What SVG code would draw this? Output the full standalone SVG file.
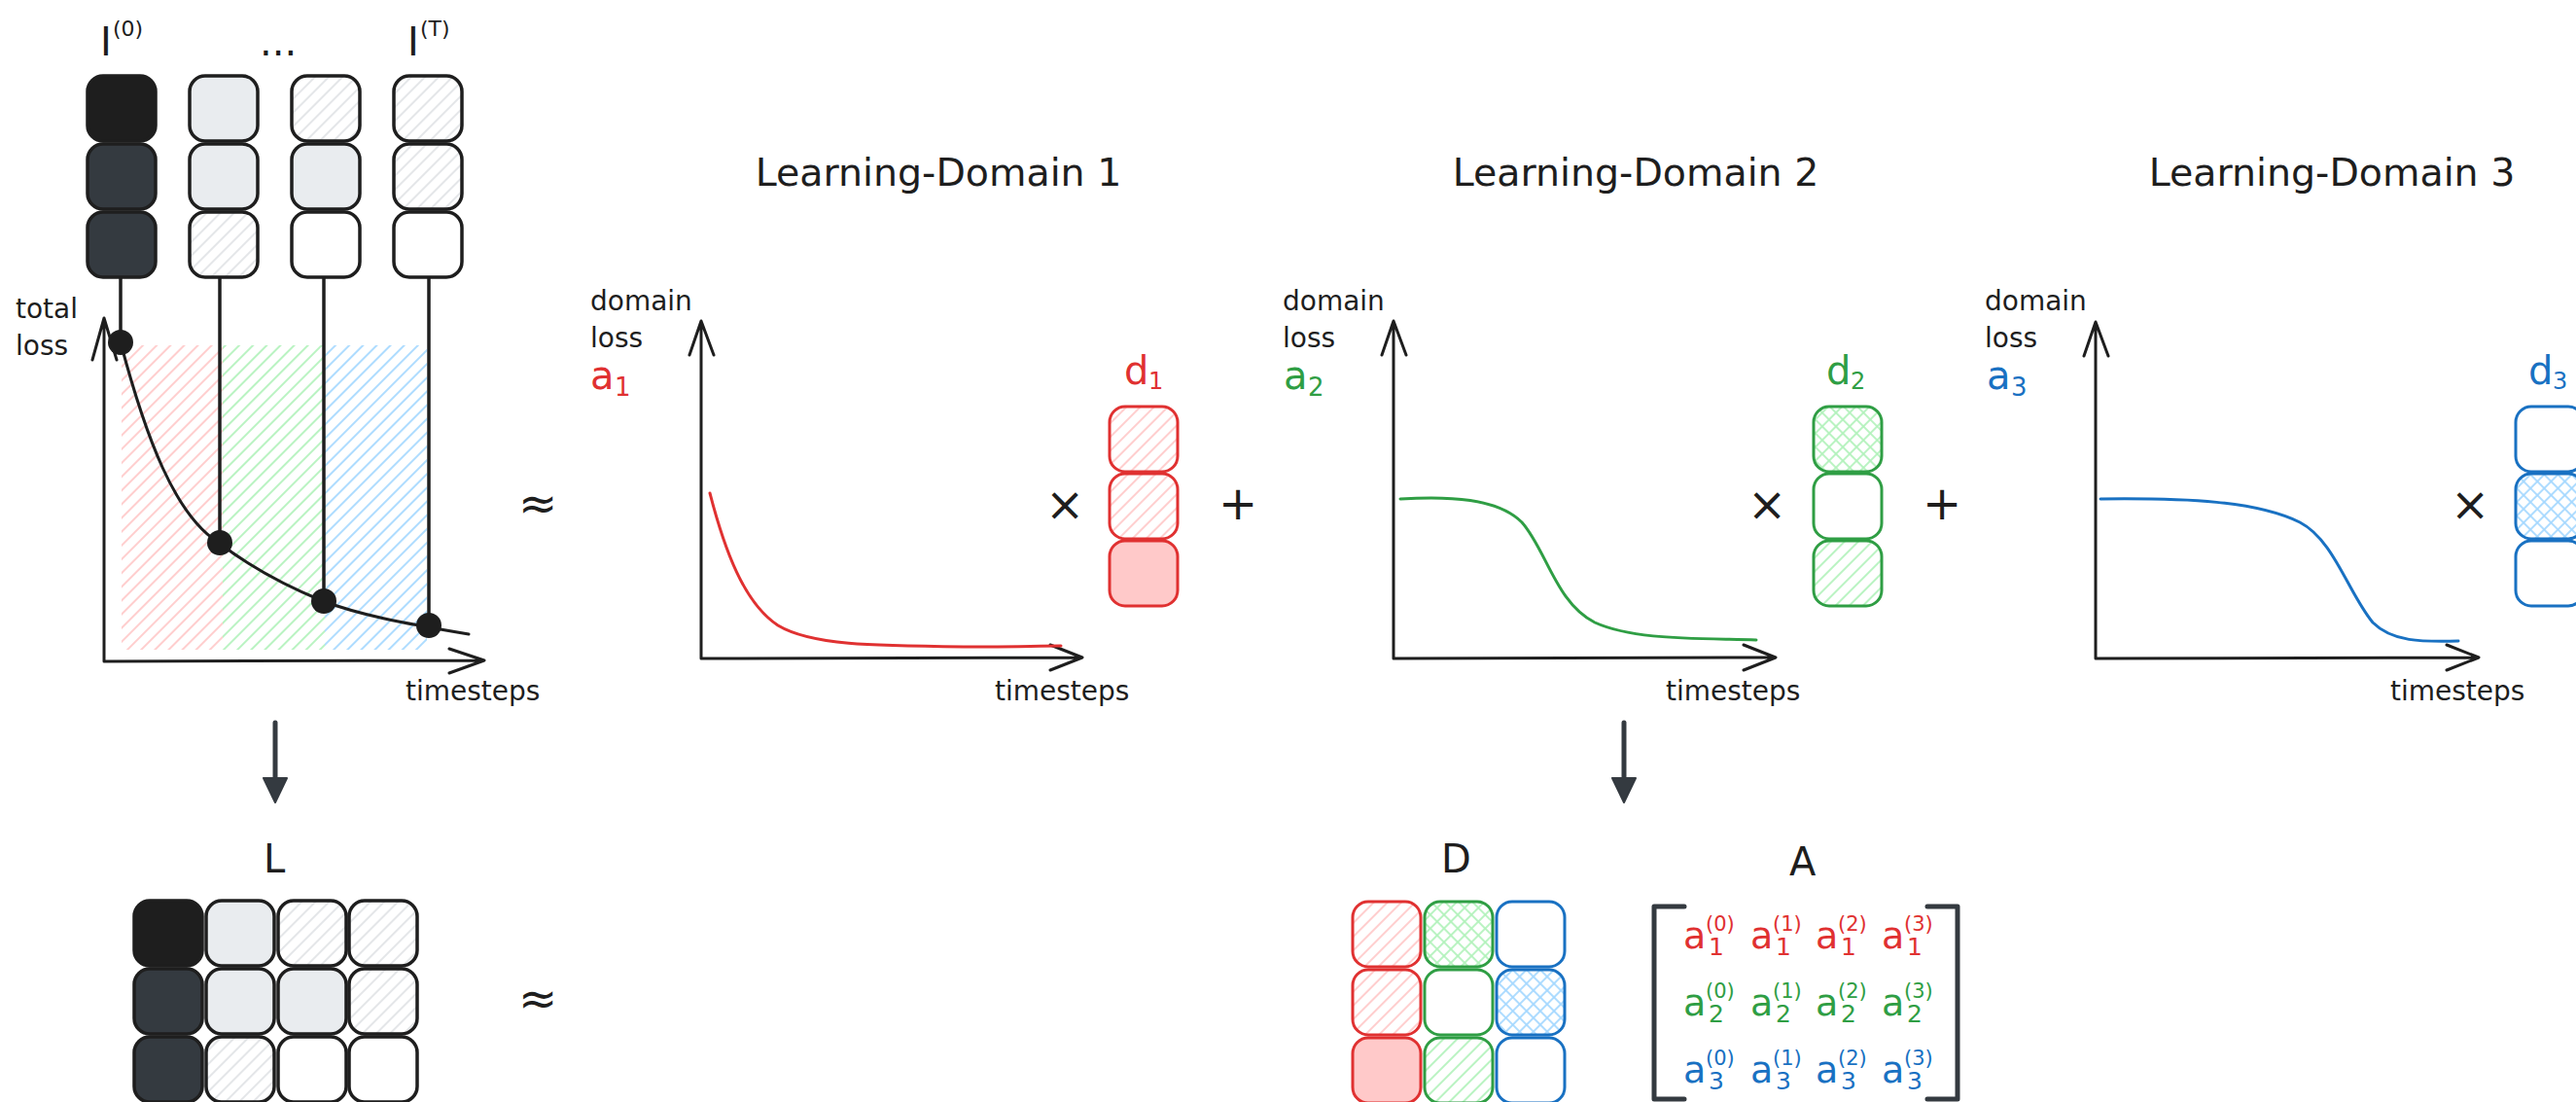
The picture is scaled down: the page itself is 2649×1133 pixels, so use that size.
<svg xmlns="http://www.w3.org/2000/svg" width="2649" height="1133" viewBox="0 0 2649 1133">
  <defs>
    <style>
      .t { font-family: "DejaVu Sans", "Liberation Sans", sans-serif; fill: #1e1e1e; }
      .lbl { font-size: 28px; }
      .big { font-size: 40px; }
      .op { font-size: 48px; text-anchor: middle; }
      .title { font-size: 39.5px; text-anchor: middle; }
      .red { fill: #e03131; }
      .green { fill: #2f9e44; }
      .blue { fill: #1971c2; }
      .cell { stroke: #1e1e1e; stroke-width: 3.5; }
      .cr { stroke: #e03131; stroke-width: 3; }
      .cg { stroke: #2f9e44; stroke-width: 3; }
      .cb { stroke: #1971c2; stroke-width: 3; }
      .axis { fill: none; stroke: #1e1e1e; stroke-width: 3; stroke-linecap: round; stroke-linejoin: round; }
      .curve { fill: none; stroke-width: 3; stroke-linecap: round; }
      .stem { stroke: #1e1e1e; stroke-width: 3.5; }
      .flow { stroke: #343a40; stroke-width: 5; stroke-linecap: round; marker-end: url(#head); }
      .bracket { fill: none; stroke: #343a40; stroke-width: 5; stroke-linecap: round; stroke-linejoin: round; }
    </style>
    <!-- single-direction hachure -->
    <pattern id="hGray" patternUnits="userSpaceOnUse" width="10" height="10" patternTransform="rotate(45)">
      <line x1="5" y1="0" x2="5" y2="10" stroke="#dde0e3" stroke-width="1.6"/>
    </pattern>
    <pattern id="hRed" patternUnits="userSpaceOnUse" width="10" height="10" patternTransform="rotate(45)">
      <line x1="5" y1="0" x2="5" y2="10" stroke="#ffc9c9" stroke-width="1.8"/>
    </pattern>
    <pattern id="hGreen" patternUnits="userSpaceOnUse" width="10" height="10" patternTransform="rotate(45)">
      <line x1="5" y1="0" x2="5" y2="10" stroke="#b2f2bb" stroke-width="1.8"/>
    </pattern>
    <pattern id="hBlue" patternUnits="userSpaceOnUse" width="10" height="10" patternTransform="rotate(45)">
      <line x1="5" y1="0" x2="5" y2="10" stroke="#a5d8ff" stroke-width="1.8"/>
    </pattern>
    <!-- cross-hatch -->
    <pattern id="xGreen" patternUnits="userSpaceOnUse" width="10" height="10" patternTransform="rotate(45)">
      <line x1="5" y1="0" x2="5" y2="10" stroke="#b2f2bb" stroke-width="1.8"/>
      <line x1="0" y1="5" x2="10" y2="5" stroke="#b2f2bb" stroke-width="1.8"/>
    </pattern>
    <pattern id="xBlue" patternUnits="userSpaceOnUse" width="10" height="10" patternTransform="rotate(45)">
      <line x1="5" y1="0" x2="5" y2="10" stroke="#a5d8ff" stroke-width="1.8"/>
      <line x1="0" y1="5" x2="10" y2="5" stroke="#a5d8ff" stroke-width="1.8"/>
    </pattern>
    <marker id="head" markerUnits="userSpaceOnUse" markerWidth="30" markerHeight="30" viewBox="0 0 30 30" refX="14" refY="15" orient="auto">
      <path d="M2,3 L27,15 L2,27 Z" fill="#343a40" stroke="#343a40" stroke-width="2" stroke-linejoin="round"/>
    </marker>
  </defs>

  <rect width="2649" height="1133" fill="#ffffff"/>

  <!-- loss vectors per timestep -->
  <g id="loss-vectors">
    <g id="col-0">
      <rect class="cell" x="90" y="78" width="70" height="67" rx="16" fill="#1e1e1e"/>
      <rect class="cell" x="90" y="148" width="70" height="67" rx="16" fill="#343a40"/>
      <rect class="cell" x="90" y="218" width="70" height="67" rx="16" fill="#343a40"/>
    </g>
    <g id="col-1">
      <rect class="cell" x="195" y="78" width="70" height="67" rx="16" fill="#e9ecef"/>
      <rect class="cell" x="195" y="148" width="70" height="67" rx="16" fill="#e9ecef"/>
      <rect class="cell" x="195" y="218" width="70" height="67" rx="16" fill="url(#hGray)"/>
    </g>
    <g id="col-2">
      <rect class="cell" x="300" y="78" width="70" height="67" rx="16" fill="url(#hGray)"/>
      <rect class="cell" x="300" y="148" width="70" height="67" rx="16" fill="#e9ecef"/>
      <rect class="cell" x="300" y="218" width="70" height="67" rx="16" fill="#ffffff"/>
    </g>
    <g id="col-T">
      <rect class="cell" x="405" y="78" width="70" height="67" rx="16" fill="url(#hGray)"/>
      <rect class="cell" x="405" y="148" width="70" height="67" rx="16" fill="url(#hGray)"/>
      <rect class="cell" x="405" y="218" width="70" height="67" rx="16" fill="#ffffff"/>
    </g>
    <text class="t big" x="103" y="57">I</text>
    <text class="t" x="116" y="37" font-size="22">(0)</text>
    <text class="t big" x="267" y="57">...</text>
    <text class="t big" x="419" y="57">I</text>
    <text class="t" x="432" y="37" font-size="22">(T)</text>
  </g>

  <!-- total loss over time -->
  <g id="total-loss">
    <rect x="125" y="355" width="104" height="313" fill="url(#hRed)"/>
    <rect x="229" y="355" width="105" height="313" fill="url(#hGreen)"/>
    <rect x="334" y="355" width="105" height="313" fill="url(#hBlue)"/>
    <path class="axis" d="M107,680 L107,327 M95,370 L107,327 L120,370 M107,680 L498,679 M462,667 L498,679 L462,692"/>
    <path class="curve" stroke="#1e1e1e" d="M124,352 C150,450 180,530 225,558 C260,585 300,605 332,618 C370,632 410,640 482,652"/>
    <text class="t lbl" x="16" y="327">total</text>
    <text class="t lbl" x="16" y="365">loss</text>
    <text class="t lbl" x="417" y="720">timesteps</text>
  </g>

  <!-- stems from each timestep to its point on the loss curve -->
  <g id="connectors">
    <line class="stem" x1="124" y1="286" x2="124" y2="352"/>
    <line class="stem" x1="226" y1="286" x2="226" y2="558"/>
    <line class="stem" x1="333" y1="286" x2="333" y2="618"/>
    <line class="stem" x1="441" y1="286" x2="441" y2="643"/>
    <circle cx="124" cy="352" r="13" fill="#1e1e1e"/>
    <circle cx="226" cy="558" r="13" fill="#1e1e1e"/>
    <circle cx="333" cy="618" r="13" fill="#1e1e1e"/>
    <circle cx="441" cy="643" r="13" fill="#1e1e1e"/>
    <line class="flow" x1="283" y1="743" x2="283" y2="812"/>
    <line class="flow" x1="1670" y1="743" x2="1670" y2="812"/>
  </g>

  <!-- operators -->
  <g id="operators">
    <text class="t op" x="553" y="534">≈</text>
    <text class="t op" x="1095" y="535">×</text>
    <text class="t op" x="1273" y="534">+</text>
    <text class="t op" x="1817" y="535">×</text>
    <text class="t op" x="1997" y="534">+</text>
    <text class="t op" x="2540" y="535">×</text>
    <text class="t op" x="553" y="1043">≈</text>
  </g>

  <!-- learning domain 1 -->
  <g id="domain-1">
    <text class="t title" x="965" y="191">Learning-Domain 1</text>
    <text class="t lbl" x="607" y="319">domain</text>
    <text class="t lbl" x="607" y="357">loss</text>
    <text class="t big red" x="607" y="400">a</text>
    <text class="t red" x="632" y="407" font-size="26">1</text>
    <path class="axis" d="M721,677 L721,330 M709,365 L721,330 L734,365 M721,677 L1113,676 M1080,663 L1113,676 L1080,689"/>
    <path class="curve" stroke="#e03131" d="M730,507 C745,565 765,620 800,643 C835,664 900,664 1000,665 C1040,665 1070,664 1091,664"/>
    <text class="t lbl" x="1023" y="720">timesteps</text>
    <text class="t big red" x="1156" y="395">d</text>
    <text class="t red" x="1181" y="400" font-size="24">1</text>
    <rect class="cr" x="1141" y="418" width="70" height="67" rx="16" fill="url(#hRed)"/>
    <rect class="cr" x="1141" y="487" width="70" height="67" rx="16" fill="url(#hRed)"/>
    <rect class="cr" x="1141" y="556" width="70" height="67" rx="16" fill="#ffc9c9"/>
  </g>

  <!-- learning domain 2 -->
  <g id="domain-2">
    <text class="t title" x="1682" y="191">Learning-Domain 2</text>
    <text class="t lbl" x="1319" y="319">domain</text>
    <text class="t lbl" x="1319" y="357">loss</text>
    <text class="t big green" x="1320" y="400">a</text>
    <text class="t green" x="1345" y="407" font-size="26">2</text>
    <path class="axis" d="M1433,677 L1433,330 M1421,365 L1433,330 L1446,365 M1433,677 L1826,676 M1793,663 L1826,676 L1793,689"/>
    <path class="curve" stroke="#2f9e44" d="M1440,513 C1490,510 1540,512 1565,537 C1590,565 1600,620 1640,640 C1680,658 1740,656 1806,658"/>
    <text class="t lbl" x="1713" y="720">timesteps</text>
    <text class="t big green" x="1878" y="395">d</text>
    <text class="t green" x="1903" y="400" font-size="24">2</text>
    <rect class="cg" x="1865" y="418" width="70" height="67" rx="16" fill="url(#xGreen)"/>
    <rect class="cg" x="1865" y="487" width="70" height="67" rx="16" fill="#ffffff"/>
    <rect class="cg" x="1865" y="556" width="70" height="67" rx="16" fill="url(#hGreen)"/>
  </g>

  <!-- learning domain 3 -->
  <g id="domain-3">
    <text class="t title" x="2398" y="191">Learning-Domain 3</text>
    <text class="t lbl" x="2041" y="319">domain</text>
    <text class="t lbl" x="2041" y="357">loss</text>
    <text class="t big blue" x="2043" y="400">a</text>
    <text class="t blue" x="2068" y="407" font-size="26">3</text>
    <path class="axis" d="M2155,677 L2155,331 M2143,366 L2155,331 L2168,366 M2155,677 L2549,676 M2516,663 L2549,676 L2516,689"/>
    <path class="curve" stroke="#1971c2" d="M2160,513 C2250,512 2320,515 2365,537 C2400,555 2415,610 2440,640 C2460,660 2490,660 2528,659"/>
    <text class="t lbl" x="2458" y="720">timesteps</text>
    <text class="t big blue" x="2600" y="395">d</text>
    <text class="t blue" x="2625" y="400" font-size="24">3</text>
    <rect class="cb" x="2587" y="418" width="70" height="67" rx="16" fill="#ffffff"/>
    <rect class="cb" x="2587" y="487" width="70" height="67" rx="16" fill="url(#xBlue)"/>
    <rect class="cb" x="2587" y="556" width="70" height="67" rx="16" fill="#ffffff"/>
  </g>

  <!-- loss matrix L -->
  <g id="matrix-L">
    <text class="t big" x="271" y="897">L</text>
    <rect class="cell" x="138" y="926" width="70" height="67" rx="16" fill="#1e1e1e"/>
    <rect class="cell" x="212" y="926" width="70" height="67" rx="16" fill="#e9ecef"/>
    <rect class="cell" x="286" y="926" width="70" height="67" rx="16" fill="url(#hGray)"/>
    <rect class="cell" x="359" y="926" width="70" height="67" rx="16" fill="url(#hGray)"/>
    <rect class="cell" x="138" y="996" width="70" height="67" rx="16" fill="#343a40"/>
    <rect class="cell" x="212" y="996" width="70" height="67" rx="16" fill="#e9ecef"/>
    <rect class="cell" x="286" y="996" width="70" height="67" rx="16" fill="#e9ecef"/>
    <rect class="cell" x="359" y="996" width="70" height="67" rx="16" fill="url(#hGray)"/>
    <rect class="cell" x="138" y="1066" width="70" height="67" rx="16" fill="#343a40"/>
    <rect class="cell" x="212" y="1066" width="70" height="67" rx="16" fill="url(#hGray)"/>
    <rect class="cell" x="286" y="1066" width="70" height="67" rx="16" fill="#ffffff"/>
    <rect class="cell" x="359" y="1066" width="70" height="67" rx="16" fill="#ffffff"/>
  </g>

  <!-- domain matrix D -->
  <g id="matrix-D">
    <text class="t big" x="1482" y="897">D</text>
    <rect class="cr" x="1391" y="927" width="70" height="67" rx="16" fill="url(#hRed)"/>
    <rect class="cr" x="1391" y="997" width="70" height="67" rx="16" fill="url(#hRed)"/>
    <rect class="cr" x="1391" y="1067" width="70" height="67" rx="16" fill="#ffc9c9"/>
    <rect class="cg" x="1465" y="927" width="70" height="67" rx="16" fill="url(#xGreen)"/>
    <rect class="cg" x="1465" y="997" width="70" height="67" rx="16" fill="#ffffff"/>
    <rect class="cg" x="1465" y="1067" width="70" height="67" rx="16" fill="url(#hGreen)"/>
    <rect class="cb" x="1539" y="927" width="70" height="67" rx="16" fill="#ffffff"/>
    <rect class="cb" x="1539" y="997" width="70" height="67" rx="16" fill="url(#xBlue)"/>
    <rect class="cb" x="1539" y="1067" width="70" height="67" rx="16" fill="#ffffff"/>
  </g>

  <!-- coefficient matrix A -->
  <g id="matrix-A">
    <text class="t big" x="1840" y="900">A</text>
    <path class="bracket" d="M1732,932 L1701,932 L1701,1130 L1732,1130"/>
    <path class="bracket" d="M1982,932 L2013,932 L2013,1130 L1982,1130"/>
    <g class="red">
      <text class="t red" x="1731" y="975" font-size="38">a</text><text class="t red" x="1754" y="957" font-size="21">(0)</text><text class="t red" x="1757" y="982" font-size="25">1</text>
      <text class="t red" x="1800" y="975" font-size="38">a</text><text class="t red" x="1823" y="957" font-size="21">(1)</text><text class="t red" x="1826" y="982" font-size="25">1</text>
      <text class="t red" x="1867" y="975" font-size="38">a</text><text class="t red" x="1890" y="957" font-size="21">(2)</text><text class="t red" x="1893" y="982" font-size="25">1</text>
      <text class="t red" x="1935" y="975" font-size="38">a</text><text class="t red" x="1958" y="957" font-size="21">(3)</text><text class="t red" x="1961" y="982" font-size="25">1</text>
    </g>
    <g class="green">
      <text class="t green" x="1731" y="1044" font-size="38">a</text><text class="t green" x="1754" y="1026" font-size="21">(0)</text><text class="t green" x="1757" y="1051" font-size="25">2</text>
      <text class="t green" x="1800" y="1044" font-size="38">a</text><text class="t green" x="1823" y="1026" font-size="21">(1)</text><text class="t green" x="1826" y="1051" font-size="25">2</text>
      <text class="t green" x="1867" y="1044" font-size="38">a</text><text class="t green" x="1890" y="1026" font-size="21">(2)</text><text class="t green" x="1893" y="1051" font-size="25">2</text>
      <text class="t green" x="1935" y="1044" font-size="38">a</text><text class="t green" x="1958" y="1026" font-size="21">(3)</text><text class="t green" x="1961" y="1051" font-size="25">2</text>
    </g>
    <g class="blue">
      <text class="t blue" x="1731" y="1113" font-size="38">a</text><text class="t blue" x="1754" y="1095" font-size="21">(0)</text><text class="t blue" x="1757" y="1120" font-size="25">3</text>
      <text class="t blue" x="1800" y="1113" font-size="38">a</text><text class="t blue" x="1823" y="1095" font-size="21">(1)</text><text class="t blue" x="1826" y="1120" font-size="25">3</text>
      <text class="t blue" x="1867" y="1113" font-size="38">a</text><text class="t blue" x="1890" y="1095" font-size="21">(2)</text><text class="t blue" x="1893" y="1120" font-size="25">3</text>
      <text class="t blue" x="1935" y="1113" font-size="38">a</text><text class="t blue" x="1958" y="1095" font-size="21">(3)</text><text class="t blue" x="1961" y="1120" font-size="25">3</text>
    </g>
  </g>
</svg>
